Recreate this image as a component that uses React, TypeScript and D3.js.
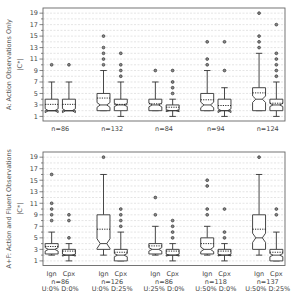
import React from 'react';
import * as d3 from 'd3';

// box stats: [whislo, q1, med, q3, whishi, mean], order Ign/Cpx per group
const topStats: number[][] = [
  [2, 2, 2, 4, 7, 3.1], [2, 2, 2, 4, 7, 3.1],
  [2, 2, 3, 5, 9, 4.2], [1, 2, 3, 4, 7, 3.1],
  [2, 2, 3, 4, 7, 3.2], [1, 2, 2, 3, 4, 2.6],
  [2, 2, 3, 5, 9, 3.9], [1, 2, 2, 4, 6, 2.9],
  [2, 2, 4, 6, 12, 5.1], [1, 2, 3, 4, 7, 3.3]
];
const topFliers: number[][] = [
  [10], [10],
  [10, 11, 12, 13, 15], [8, 9, 10, 12],
  [9], [5, 6, 7, 9],
  [10, 11, 14], [9, 14],
  [13, 14, 15, 19], [8, 9, 10, 11, 12, 17]
];
const topN = [86, 132, 84, 94, 124];

const bottomStats: number[][] = [
  [2, 2.2, 3, 4, 6, 3.5], [1, 2, 2, 3, 4, 2.7],
  [2, 3, 4, 9, 16, 6.5], [1, 1, 2, 3, 6, 2.5],
  [2, 2.2, 3, 4, 7, 3.6], [1, 2, 2, 3, 4, 2.7],
  [2, 2.2, 3, 5, 7, 4.0], [1, 2, 2, 3, 4, 2.7],
  [2, 3, 5, 9, 16, 6.5], [1, 1, 2, 3, 6, 2.5]
];
const bottomFliers: number[][] = [
  [8, 9, 10, 11, 16], [5, 8, 9],
  [19], [7, 8, 9, 10],
  [9, 12], [5, 6, 7, 8],
  [9, 10, 14, 15], [5, 6, 10],
  [19], [9, 10]
];
const bottomN = [86, 126, 86, 118, 137];
const bottomUD = ['U:0% D:0%', 'U:0% D:25%', 'U:25% D:0%', 'U:50% D:0%', 'U:50% D:25%'];
const boxNames = ['Ign', 'Cpx'];

const positions = [1, 2, 4, 5, 7, 8, 10, 11, 13, 14];
const majorTicks = d3.range(1, 20, 2);
const gridTicks = d3.range(1, 20);

const FONT = 'DejaVu Sans';
const INK = '#333';
const LEFT = 43;
const RIGHT = 285;
const BOXW = 0.75;

const x = d3.scaleLinear().domain([0.5, 14.5]).range([LEFT, RIGHT]);

interface PanelProps {
  top: number;
  bottom: number;
  stats: number[][];
  fliers: number[][];
  ns: number[];
  title: string;
  ud?: string[];
}

const Panel: React.FC<PanelProps> = ({ top, bottom, stats, fliers, ns, title, ud }) => {
  const y = d3.scaleLinear().domain([0.2, 19.9]).range([bottom, top]);
  const bw = x(BOXW) - x(0);
  const midY = (top + bottom) / 2;

  return (
    <g>
      {/* grid */}
      {gridTicks.map(t => (
        <line key={'g' + t} x1={LEFT} x2={RIGHT} y1={y(t)} y2={y(t)}
          stroke="#d4d4d4" strokeWidth={0.6} strokeDasharray="2,1.5" />
      ))}
      {/* boxes */}
      {stats.map((s, i) => {
        const [lo, q1, med, q3, hi, mean] = s;
        const n = ns[Math.floor(i / 2)];
        const ci = 1.57 * (q3 - q1) / Math.sqrt(n);
        const cx = x(positions[i]);
        const l = cx - bw / 2;
        const r = cx + bw / 2;
        const cl = cx - bw / 4;
        const cr = cx + bw / 4;
        const path = d3.path();
        path.moveTo(l, y(q1));
        path.lineTo(l, y(med - ci));
        path.lineTo(cl, y(med));
        path.lineTo(l, y(med + ci));
        path.lineTo(l, y(q3));
        path.lineTo(r, y(q3));
        path.lineTo(r, y(med + ci));
        path.lineTo(cr, y(med));
        path.lineTo(r, y(med - ci));
        path.lineTo(r, y(q1));
        path.closePath();
        return (
          <g key={'b' + i}>
            <line x1={cx} x2={cx} y1={y(q3)} y2={y(hi)} stroke={INK} strokeWidth={0.9} />
            <line x1={cx} x2={cx} y1={y(q1)} y2={y(lo)} stroke={INK} strokeWidth={0.9} />
            <line x1={cl} x2={cr} y1={y(hi)} y2={y(hi)} stroke={INK} strokeWidth={0.9} />
            <line x1={cl} x2={cr} y1={y(lo)} y2={y(lo)} stroke={INK} strokeWidth={0.9} />
            <path d={path.toString()} fill="white" stroke={INK} strokeWidth={0.9} />
            <line x1={cl} x2={cr} y1={y(med)} y2={y(med)} stroke={INK} strokeWidth={0.9} />
            <line x1={l} x2={r} y1={y(mean)} y2={y(mean)} stroke="#111" strokeWidth={0.9}
              strokeDasharray="1.2,1.2" />
            {fliers[i].map((f, j) => (
              <circle key={j} cx={cx} cy={y(f)} r={1.4} fill="#888" stroke={INK} strokeWidth={0.7} />
            ))}
          </g>
        );
      })}
      {/* frame */}
      <rect x={LEFT} y={top} width={RIGHT - LEFT} height={bottom - top}
        fill="none" stroke="#666" strokeWidth={0.9} />
      {/* y ticks */}
      {gridTicks.map(t => (
        <line key={'t' + t} x1={LEFT} x2={LEFT - (t % 2 === 1 ? 3.5 : 2)} y1={y(t)} y2={y(t)}
          stroke="#555" strokeWidth={0.7} />
      ))}
      {majorTicks.map(t => (
        <text key={'l' + t} x={LEFT - 5} y={y(t)} dy="0.35em" textAnchor="end"
          fontFamily={FONT} fontSize={6.5} fill="#444">{t}</text>
      ))}
      {/* y label */}
      <text transform={`translate(11, ${midY}) rotate(-90)`} textAnchor="middle"
        fontFamily={FONT} fontSize={6.5} fill="#555">{title}</text>
      <text transform={`translate(22, ${midY}) rotate(-90)`} textAnchor="middle"
        fontFamily={FONT} fontSize={6.5} fill="#555">|C*|</text>
      {/* x labels */}
      {ns.map((n, g) => {
        const gx = (x(positions[g * 2]) + x(positions[g * 2 + 1])) / 2;
        if (!ud) {
          return (
            <text key={'n' + g} x={gx} y={bottom + 10} textAnchor="middle"
              fontFamily={FONT} fontSize={6.5} fill="#444">{`n=${n}`}</text>
          );
        }
        return (
          <g key={'n' + g}>
            {boxNames.map((b, k) => (
              <text key={b} x={x(positions[g * 2 + k])} y={bottom + 10.5} textAnchor="middle"
                fontFamily={FONT} fontSize={6.5} fill="#444">{b}</text>
            ))}
            <text x={gx} y={bottom + 18} textAnchor="middle"
              fontFamily={FONT} fontSize={6.5} fill="#444">{`n=${n}`}</text>
            <text x={gx} y={bottom + 25.7} textAnchor="middle"
              fontFamily={FONT} fontSize={6.5} fill="#444">{ud[g]}</text>
          </g>
        );
      })}
    </g>
  );
};

export default function App() {
  return (
    <svg width={300} height={300} style={{ position: 'absolute', left: 0, top: 0, background: 'white' }}>
      <rect width={300} height={300} fill="white" />
      <Panel top={8} bottom={121} stats={topStats} fliers={topFliers} ns={topN}
        title="A: Action Observations Only" />
      <Panel top={152} bottom={265.5} stats={bottomStats} fliers={bottomFliers} ns={bottomN}
        title="A+F: Action and Fluent Observations" ud={bottomUD} />
    </svg>
  );
}
